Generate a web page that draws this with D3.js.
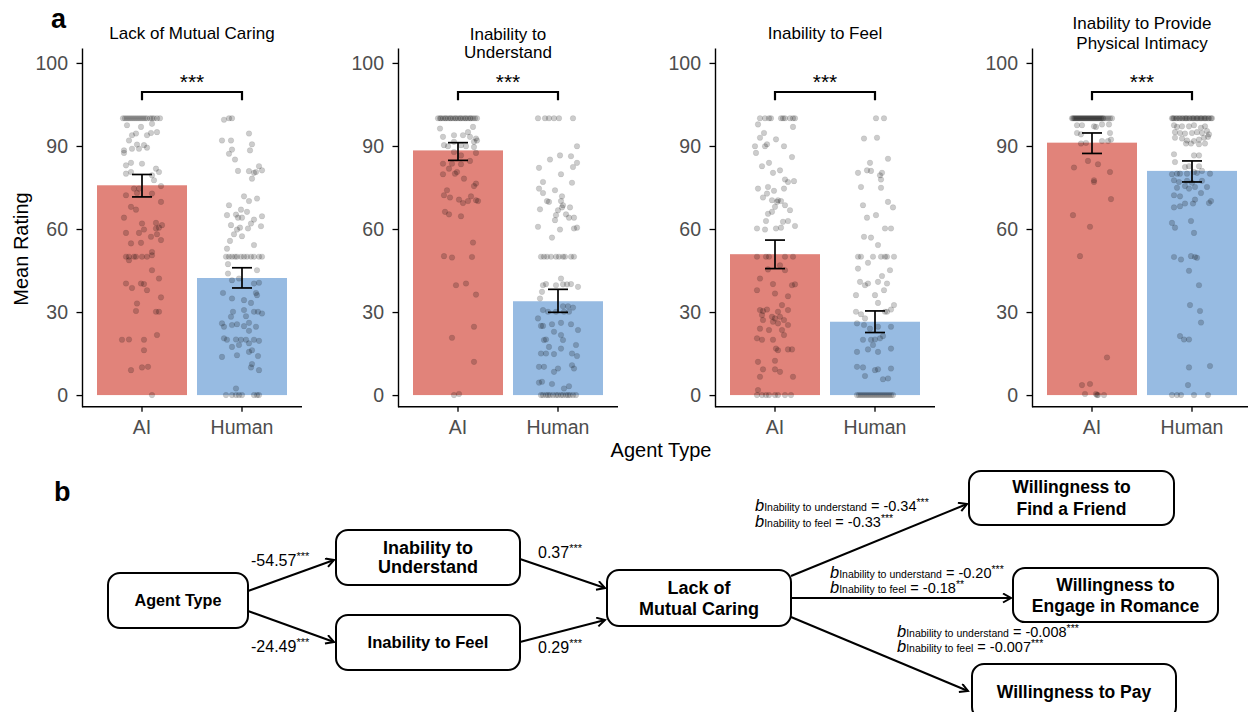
<!DOCTYPE html>
<html>
<head>
<meta charset="utf-8">
<script src="https://cdn.jsdelivr.net/npm/d3@7"></script>
<style>
  body { margin: 0; background: #fff; }
  svg text { font-family: "Liberation Sans", Arial, Helvetica, sans-serif; }
</style>
</head>
<body>
<svg id="fig" width="1248" height="712"></svg>
<script>
// ---- panel a data ----
var groups = ['AI', 'Human'];
var panelTitles = [['Lack of Mutual Caring'], ['Inability to', 'Understand'], ['Inability to Feel'], ['Inability to Provide', 'Physical Intimacy']];
var yTicks = [0, 30, 60, 90, 120];
var yTickLabels = ['0', '30', '60', '90', '100'];
var meanAI = [75.8, 88.4, 50.9, 91.2];
var meanHuman = [42.3, 33.9, 26.5, 81.0];
var ciAI = [[71.6, 79.7], [84.8, 91.2], [45.7, 56.0], [87.3, 94.7]];
var ciHuman = [[38.7, 46.0], [29.9, 38.2], [22.6, 30.4], [77.0, 84.6]];
var sigLabels = ['***', '***', '***', '***'];

// individual ratings: [jitter offset as share of band, rating]
var ptsLmcAI = [[-0.19,100],[-0.17,100],[-0.15,100],[-0.13,100],[-0.11,100],[-0.09,100],[-0.07,100],[-0.05,100],[-0.03,100],[-0.01,100],[0.01,100],[0.03,100],[0.05,100],[0.08,100],[0.10,100],[0.12,100],[0.15,100],[0.18,100],
  [-0.15,97.5],[-0.01,96.9],[0.10,98],[0.15,95],[0.09,94.7],[0.05,93.9],[-0.06,94.5],[-0.10,93.9],[-0.13,92],[-0.05,90.5],[0.02,90.3],[0.05,89.4],[-0.03,89],[-0.10,89],[-0.18,88.4],[-0.18,87.5],[-0.11,83.9],[0.00,83.6],[-0.16,83],[0.14,81.8],[0.17,80.6],[-0.11,80.6],[-0.16,80],[0.10,79.4],[0.12,77.6],[0.19,75.5],[-0.08,74.6],[-0.03,74.6],[-0.16,72.2],[0.10,72.8],[-0.05,73],[0.19,69.8],[-0.11,68],[-0.06,67],[-0.18,64.1],[0.00,62],[0.14,62.2],[0.20,61.4],[0.02,59.8],[0.14,60.2],[0.17,60.5],[-0.16,58.6],[-0.03,58.6],[0.09,57.2],[0.15,58.1],[0.19,56],[-0.11,54.8],[-0.01,55],[0.10,51.7],
  [-0.16,50],[-0.13,50],[-0.08,50],[-0.06,50],[0.00,50],[0.05,50],[0.10,50.5],[-0.13,48.7],[0.10,45.1],[-0.16,40.3],[-0.01,40.3],[0.02,40.1],[-0.10,38.7],[0.05,37.9],[0.17,42.1],[0.19,35.3],[-0.05,33.1],[-0.06,30.4],[0.14,30.1],[0.17,30.1],[0.15,21.7],[-0.20,20],[-0.13,20.1],[0.02,20],[0.02,16.2],[-0.11,9],[0.00,10],[0.06,10.2],[0.10,0]];
var ptsLmcHuman = [[-0.18,99.5],[-0.13,100],[-0.10,100],[0.07,94.5],[-0.20,92],[-0.11,92],[0.10,90.6],[-0.10,88.7],[-0.13,87.2],[-0.07,85.1],[0.08,88.4],[-0.04,81],[0.07,80.9],[0.12,80.3],[0.14,80.6],[0.17,82.7],[0.20,81.2],[0.10,78.2],[0.02,71.8],[0.15,71],[0.07,70.1],[-0.13,68.6],[-0.01,67],[0.05,66.2],[-0.15,65],[-0.06,65.2],[-0.04,64.1],[0.00,64.1],[0.12,63.4],[0.20,64.6],[-0.11,61.4],[-0.02,60.5],[0.06,60.2],[-0.05,59.8],[0.19,61],[0.09,62],[-0.08,58.1],[0.00,57.4],[-0.12,55.7],[0.12,54.2],[-0.15,52.9],
  [-0.16,50],[-0.13,50],[-0.10,50],[-0.07,50],[-0.05,50],[-0.01,50],[0.02,50],[0.05,50],[0.09,50],[0.12,50],[0.17,50],[0.20,50],
  [-0.14,47.3],[0.15,45.1],[-0.14,43.9],[-0.10,41.5],[-0.03,42.1],[0.12,40.3],[0.17,40.6],[0.14,36.9],[0.15,36.1],[-0.19,36.9],[-0.10,34.9],[0.02,34.3],[0.09,33.3],[-0.09,30.1],[0.02,30.7],[0.12,30.1],[0.16,30.1],[0.20,29.5],[0.04,28.5],[-0.11,28.3],[-0.20,25.9],[-0.18,24.7],[-0.10,25.3],[-0.05,25.6],[0.02,24.9],[0.07,26.1],[0.14,24.7],[0.07,23.2],[-0.18,20.5],[-0.15,20],[-0.06,20.1],[-0.01,20],[0.04,20],[0.12,20],[0.17,19.6],[-0.03,18.1],[0.07,18.7],[-0.10,17.4],[0.10,16.2],[-0.20,13.8],[-0.05,14.4],[0.07,15.6],[0.16,14.1],[0.10,11.2],[0.09,10],[0.17,9],[-0.06,2.4],
  [-0.16,0],[-0.10,0],[-0.06,0],[-0.03,0],[0.00,0],[0.12,0],[0.15,0],[0.17,0]];
var ptsIuAI = [[-0.20,100],[-0.18,100],[-0.17,100],[-0.15,100],[-0.13,100],[-0.12,100],[-0.10,100],[-0.08,100],[-0.07,100],[-0.05,100],[-0.03,100],[-0.02,100],[0.00,100],[0.02,100],[0.03,100],[0.05,100],[0.07,100],[0.08,100],[0.10,100],[0.12,100],[0.13,100],[0.15,100],[0.17,100],[0.19,100],
  [-0.18,96.3],[0.15,96.9],[0.10,95],[-0.15,93.3],[-0.04,93.9],[0.05,93.9],[0.12,93.3],[0.18,92.7],[0.16,91.5],[0.19,92],[-0.04,91.5],[-0.14,90.3],[-0.10,89.9],[0.03,90.3],[0.08,89.9],[0.16,89.6],[-0.04,87.8],[0.03,86.6],[0.18,87.5],[-0.15,83.6],[-0.06,83.6],[0.03,83.4],[0.12,84.6],[-0.09,81.8],[-0.01,80.6],[-0.15,79.8],[-0.03,80],[0.06,78.2],[0.18,76.4],[0.16,75.5],[-0.11,74],[-0.14,72.2],[-0.08,71.4],[0.01,70.6],[0.05,69.4],[0.10,70.1],[0.13,71.8],[0.18,70.4],[0.20,70.1],[-0.13,66.2],[-0.09,65.3],[0.03,64.6],[0.15,55.1],[-0.14,50.2],[-0.06,49.7],[0.14,49.9],[-0.02,39.7],[0.08,40.3],[0.18,36.3],[0.16,24.7],[-0.06,20.7],[0.16,12],[-0.04,0],[0.01,0.4]];
var ptsIuHuman = [[-0.20,100],[-0.13,100],[-0.09,100],[-0.04,100],[0.01,100],[0.15,100],[0.19,89.9],[-0.08,85.1],[0.02,86.6],[0.13,86.3],[0.19,83.9],[0.15,82.4],[-0.19,82.1],[0.03,79.8],[-0.15,77],[0.14,76.7],[-0.19,74.6],[-0.15,73],[-0.03,74],[0.04,71.8],[-0.11,70.1],[-0.09,69.8],[0.03,70.1],[0.05,68.6],[0.00,66.8],[0.04,67.8],[0.12,67.8],[-0.18,67.1],[-0.02,65],[0.08,65.3],[0.11,64.1],[0.16,64.1],[-0.03,63.2],[-0.20,60.8],[0.02,59.8],[0.16,60.2],[0.19,60.5],[-0.06,56.9],
  [-0.17,50],[-0.14,50],[-0.11,50],[-0.07,50],[-0.02,50],[0.01,50],[0.05,50],[0.07,50],[0.13,50],[0.16,50],
  [0.03,42.1],[-0.15,39.7],[-0.12,40.1],[-0.02,39.7],[0.05,40],[0.09,40],[0.13,40.1],[0.20,39.1],[-0.16,37.3],[-0.18,34.9],[0.05,32.1],[0.10,32.1],[0.15,31.6],[-0.15,30.7],[-0.10,30.1],[-0.02,30.1],[0.06,30.1],[0.11,30.1],[-0.20,27.7],[-0.17,25],[-0.15,25],[-0.06,25.6],[0.03,26.1],[0.13,25.6],[0.20,23.5],[-0.14,19.9],[-0.12,20.1],[-0.04,22.9],[0.03,21.7],[0.05,19.9],[-0.09,17.4],[0.03,16.8],[0.18,18.1],[-0.17,15],[-0.12,15],[-0.04,14.8],[0.14,15],[0.19,14.1],[-0.19,10.2],[-0.14,10.2],[0.00,9.6],[-0.04,8.4],[0.14,10.8],[0.16,9.6],[-0.16,4.8],[-0.06,4],[-0.19,4.5],[0.06,2.4],[0.11,3.2],
  [-0.17,0],[-0.15,0],[-0.12,0],[-0.10,0],[-0.08,0],[-0.05,0],[-0.02,0],[0.00,0],[0.03,0],[0.05,0],[0.08,0],[0.10,0],[0.12,0],[0.15,0],[0.18,0]];
var ptsIfAI = [[-0.15,100],[-0.10,100],[-0.06,100],[-0.04,100],[0.06,100],[0.08,100],[0.10,100],[0.15,100],[0.18,100],[0.20,100],
  [-0.17,97.8],[0.18,96.9],[-0.11,94.7],[-0.15,93],[0.01,92.4],[-0.08,90.6],[-0.10,89.9],[-0.20,89.9],[0.09,89.9],[-0.19,87.5],[0.17,86],[-0.06,83.9],[-0.13,82.7],[0.05,81.2],[-0.02,80.3],[0.10,77.9],[0.13,77],[0.19,77.3],[-0.17,74.6],[-0.07,75.2],[-0.01,73.8],[0.09,74.6],[-0.12,71.4],[-0.08,72.8],[-0.03,70.4],[0.02,69.8],[0.03,70.4],[0.06,70.1],[0.10,68.6],[0.15,66.8],[0.00,68],[-0.03,66.2],[-0.07,65.5],[-0.09,62.9],[0.08,62.6],[0.13,62.9],[-0.18,60.2],[-0.10,59.8],[0.01,60.2],[0.06,60.5],[0.20,61.1],
  [-0.18,50],[-0.09,50],[-0.06,50],[0.10,50],[0.18,50],
  [0.05,46.9],[-0.07,45.4],[0.10,45.1],[-0.15,42.1],[-0.02,40.1],[0.17,39.7],[0.20,40],[-0.18,37.9],[0.00,36.7],[0.13,35.7],[0.07,32.5],[-0.15,30.7],[-0.12,30.4],[-0.08,30.9],[0.03,30.1],[0.13,30.7],[-0.13,28.9],[-0.03,28.3],[0.00,27.7],[0.05,28.3],[0.09,27.1],[-0.12,27.1],[-0.02,26.5],[0.03,25.9],[0.13,25.3],[-0.15,24],[-0.06,23.5],[0.07,23.5],[-0.18,20.5],[-0.13,20],[-0.02,20],[0.09,21.7],[0.17,16.5],[0.01,16.8],[0.03,16.2],[0.13,16.5],[-0.17,12],[0.00,12.4],[-0.12,9.3],[0.00,9.3],[0.05,8.4],[-0.15,6.6],[0.18,6.6],[-0.17,1.8],
  [-0.18,0],[-0.13,0],[-0.09,0],[-0.06,0],[0.00,0],[0.03,0],[0.10,0],[0.16,0]];
var ptsIfHuman = [[0.01,100],[0.09,100],[-0.11,92.7],[0.02,93],[0.13,85.4],[-0.05,83.9],[-0.17,80.3],[-0.08,81.2],[-0.04,81],[0.07,80.3],[0.05,79.4],[0.06,77.9],[-0.14,75.2],[0.06,74.9],[0.13,69.8],[0.18,67.8],[-0.12,68.6],[0.01,65],[-0.08,64.1],[0.10,60.2],[0.16,60.2],[-0.11,57.2],[-0.04,56.9],[0.03,54.2],
  [-0.17,50],[-0.14,50],[-0.02,50],[0.06,50],[0.10,50],[0.12,50],[0.19,50],
  [-0.07,47.8],[0.15,45.1],[-0.17,45.7],[-0.15,40.9],[0.03,40.9],[0.07,43],[0.12,40.3],[-0.10,39.7],[-0.07,40.3],[-0.19,36.1],[0.00,36.1],[0.09,37.9],[0.03,33.3],[0.19,32.5],[0.16,30.9],[0.12,30.1],[0.10,30.1],[-0.19,30.1],[-0.14,29.2],[-0.10,27.7],[-0.18,25.9],[-0.11,25.3],[-0.05,24],[0.03,24.7],[0.16,24.7],[-0.12,20],[-0.04,20],[0.00,20.1],[0.05,20.5],[0.08,21.3],[-0.18,15.6],[-0.07,16.5],[-0.02,18.1],[0.03,15.6],[0.16,16.8],[-0.18,10.2],[-0.12,10],[0.00,9],[0.03,9.3],[0.16,9.6],[-0.10,6.9],[0.08,5.7],[0.13,6],
  [-0.18,0],[-0.16,0],[-0.14,0],[-0.12,0],[-0.10,0],[-0.08,0],[-0.06,0],[-0.04,0],[-0.02,0],[0.00,0],[0.02,0],[0.04,0],[0.06,0],[0.08,0],[0.10,0],[0.12,0],[0.14,0],[0.16,0],[0.18,0]];
var ptsIpiAI = [[-0.20,100],[-0.19,100],[-0.18,100],[-0.17,100],[-0.16,100],[-0.15,100],[-0.14,100],[-0.13,100],[-0.12,100],[-0.11,100],[-0.10,100],[-0.09,100],[-0.08,100],[-0.07,100],[-0.06,100],[-0.05,100],[-0.04,100],[-0.03,100],[-0.02,100],[-0.01,100],[0.00,100],[0.01,100],[0.02,100],[0.03,100],[0.04,100],[0.05,100],[0.06,100],[0.07,100],[0.08,100],[0.09,100],[0.10,100],[0.11,100],[0.12,100],[0.14,100],[0.16,100],[0.18,100],[0.20,100],
  [-0.15,97.5],[-0.10,97.5],[0.02,97.1],[0.04,96.9],[0.10,97.8],[0.17,97.8],[-0.15,94.7],[-0.11,94.2],[0.10,91.8],[0.16,91.8],[0.19,92.3],[0.18,94.7],[-0.11,90.9],[-0.06,91.1],[-0.04,84.6],[0.06,83.4],[-0.18,82.2],[0.18,80.6],[0.02,77.6],[0.02,77],[0.19,70.8],[-0.19,65],[-0.02,60.8],[-0.12,50.2],[0.15,13.6],[-0.10,3.6],[-0.02,4],[-0.07,0.4],[0.04,0.4],[0.05,0],[0.06,0],[0.12,0]];
var ptsIpiHuman = [[-0.20,100],[-0.19,100],[-0.18,100],[-0.16,100],[-0.15,100],[-0.13,100],[-0.12,100],[-0.10,100],[-0.09,100],[-0.07,100],[-0.06,100],[-0.05,100],[-0.03,100],[-0.02,100],[0.00,100],[0.01,100],[0.02,100],[0.04,100],[0.05,100],[0.06,100],[0.08,100],[0.09,100],[0.10,100],[0.12,100],[0.13,100],[0.14,100],[0.16,100],[0.17,100],[0.19,100],[0.20,100],
  [-0.18,97.5],[-0.15,96.9],[-0.10,97.1],[-0.03,97.1],[0.02,97.5],[0.09,96.6],[0.13,97.1],[-0.17,95],[-0.12,94.7],[-0.07,94.5],[0.00,94.7],[0.05,95],[0.10,94.7],[0.15,95.4],[0.17,94.2],[-0.17,93],[-0.10,92.7],[-0.05,92],[0.02,91.8],[0.07,92.3],[0.12,93],[0.16,93.3],[-0.06,90.9],[-0.01,90.9],[0.07,90.6],[0.13,90.9],[-0.18,87],[0.02,86.6],[0.07,86.6],[-0.17,84.2],[-0.07,82.4],[-0.03,82.7],[0.07,82.7],[0.10,81],[0.18,80],[-0.20,79.8],[-0.15,80],[-0.12,80],[-0.05,80],[0.02,80.6],[0.05,80.3],[-0.18,77.6],[-0.13,77],[-0.05,77.4],[0.00,76.7],[0.10,77.4],[-0.15,74.9],[-0.07,75.5],[-0.03,74.6],[0.03,75.2],[0.15,75.2],[-0.18,72.2],[-0.12,71.8],[-0.07,69.2],[0.03,70.6],[0.17,69.4],[0.19,70.1],[-0.18,67.8],[-0.12,68.2],[0.01,69.2],[0.09,73],[-0.20,62.2],[-0.17,60.5],[-0.01,62.9],[0.02,58.6],
  [-0.18,49.9],[-0.11,49],[-0.01,50.2],[0.03,49.9],[0.05,49.6],[-0.03,44.9],[0.07,39.7],[-0.02,32.5],[0.08,30.4],[0.09,26.2],[-0.12,21.3],[-0.08,20.1],[-0.03,20.1],[-0.03,10],[0.18,10.5],[-0.04,3.6],
  [-0.20,0],[-0.15,0],[-0.11,0],[0.02,0],[0.16,0]];
var ptsAI = [ptsLmcAI, ptsIuAI, ptsIfAI, ptsIpiAI];
var ptsHuman = [ptsLmcHuman, ptsIuHuman, ptsIfHuman, ptsIpiHuman];

// ---- panel b data ----
var nodeLabels = [['Agent Type'], ['Inability to', 'Understand'], ['Inability to Feel'], ['Lack of', 'Mutual Caring'],
  ['Willingness to', 'Find a Friend'], ['Willingness to', 'Engage in Romance'], ['Willingness to Pay']];
var pathCoefs = ['-54.57', '-24.49', '0.37', '0.29'];
var pathStars = ['***', '***', '***', '***'];
var bUnderstand = ['-0.34', '-0.20', '-0.008'];
var bUnderstandStars = ['***', '***', '***'];
var bFeel = ['-0.33', '-0.18', '-0.007'];
var bFeelStars = ['***', '**', '***'];

// ---- layout ----
var svg = d3.select('#fig');
var panelLeft = [82, 398, 715, 1032];
var titleBase = [[38.5], [39.5, 58], [38.5], [28.5, 48.5]];
var barColors = ['#e1837a', '#97bbe2'];

var y = d3.scaleLinear()
          .domain([-4.2, 125.4])
          .range([406.7, 48]);

function drawPanel(i) {
  var left = panelLeft[i];
  var x = d3.scaleBand()
            .domain(groups)
            .range([left + 10, left + 210]);
  var bw = x.bandwidth();
  var means = [meanAI[i], meanHuman[i]];
  var cis = [ciAI[i], ciHuman[i]];
  var pts = [ptsAI[i], ptsHuman[i]];
  var g = svg.append('g');

  g.selectAll('.bar')
    .data(groups)
    .enter()
    .append('rect')
      .classed('bar', true)
      .attr('x', d => x(d) + bw * 0.05)
      .attr('width', bw * 0.9)
      .attr('y', (d, j) => y(means[j]))
      .attr('height', (d, j) => y(0) - y(means[j]))
      .attr('fill', (d, j) => barColors[j]);

  groups.forEach(function(name, j) {
    var cx = x(name) + bw / 2;
    g.append('g')
      .selectAll('circle')
      .data(pts[j])
      .enter()
      .append('circle')
        .attr('cx', d => cx + d[0] * bw)
        .attr('cy', d => y(d[1]))
        .attr('r', 2.8)
        .attr('fill', 'black')
        .attr('fill-opacity', 0.2)
        .attr('stroke', 'black')
        .attr('stroke-opacity', 0.12)
        .attr('stroke-width', 0.6);

    // error bar
    var eb = g.append('g')
              .attr('stroke', 'black')
              .attr('stroke-width', 1.7);
    eb.append('line')
      .attr('x1', cx).attr('x2', cx)
      .attr('y1', y(cis[j][0])).attr('y2', y(cis[j][1]));
    cis[j].forEach(function(v) {
      eb.append('line')
        .attr('x1', cx - bw * 0.1).attr('x2', cx + bw * 0.1)
        .attr('y1', y(v)).attr('y2', y(v));
    });
  });

  // axes
  var yAxis = d3.axisLeft(y)
                .tickValues(yTicks)
                .tickFormat((d, k) => yTickLabels[k])
                .tickSize(5.5)
                .tickSizeOuter(0)
                .tickPadding(8.5);
  var ya = g.append('g')
            .attr('transform', `translate(${left},0)`)
            .call(yAxis);
  var xAxis = d3.axisBottom(x)
                .tickSize(5)
                .tickSizeOuter(0)
                .tickPadding(8);
  var xa = g.append('g')
            .attr('transform', `translate(0,${y.range()[0]})`)
            .call(xAxis);
  xa.select('.domain').remove();
  g.append('line')
    .attr('x1', left).attr('x2', left + 220)
    .attr('y1', y.range()[0]).attr('y2', y.range()[0])
    .attr('stroke', 'black')
    .attr('stroke-width', 1.4);
  [ya, xa].forEach(function(a) {
    a.select('.domain').attr('stroke', 'black').attr('stroke-width', 1.4);
    a.selectAll('.tick line').attr('stroke', 'black').attr('stroke-width', 1.3);
    a.selectAll('.tick text')
      .attr('fill', '#4d4d4d')
      .attr('font-size', 19.5)
      .attr('font-family', null);
  });

  // title
  panelTitles[i].forEach(function(line, k) {
    g.append('text')
      .attr('x', left + 110)
      .attr('y', titleBase[i][k])
      .attr('text-anchor', 'middle')
      .attr('font-size', 17)
      .text(line);
  });

  // significance bracket
  var xa0 = x('AI') + bw / 2, xh0 = x('Human') + bw / 2;
  g.append('path')
    .attr('d', `M${xa0},${y(106.5)}V${y(109.5)}H${xh0}V${y(106.5)}`)
    .attr('fill', 'none')
    .attr('stroke', 'black')
    .attr('stroke-width', 2.2);
  g.append('text')
    .attr('x', (xa0 + xh0) / 2)
    .attr('y', y(109.5) - 3)
    .attr('text-anchor', 'middle')
    .attr('font-size', 21)
    .text(sigLabels[i]);
}

panelTitles.forEach((t, i) => drawPanel(i));

svg.append('text')
  .attr('transform', 'translate(28,249) rotate(-90)')
  .attr('text-anchor', 'middle')
  .attr('font-size', 20)
  .text('Mean Rating');
svg.append('text')
  .attr('x', 661).attr('y', 457)
  .attr('text-anchor', 'middle')
  .attr('font-size', 20)
  .text('Agent Type');

svg.append('text').attr('x', 51).attr('y', 28)
  .attr('font-size', 27).attr('font-weight', 'bold').text('a');
svg.append('text').attr('x', 54).attr('y', 501)
  .attr('font-size', 27).attr('font-weight', 'bold').text('b');

// ---- panel b: path diagram ----
var boxes = [
  {x: 108, y: 573, w: 140, h: 55, fs: 16.2, lh: 20},
  {x: 336, y: 530, w: 184, h: 55, fs: 18, lh: 19},
  {x: 336, y: 615, w: 184, h: 55, fs: 16.6, lh: 20},
  {x: 607, y: 570, w: 184, h: 56, fs: 18, lh: 21},
  {x: 969, y: 471, w: 205, h: 54, fs: 17.5, lh: 22},
  {x: 1013, y: 568, w: 205, h: 54, fs: 17.5, lh: 21},
  {x: 972, y: 664, w: 204, h: 55, fs: 17.5, lh: 21}
];
var arrows = [
  [248, 591, 334, 560], [248, 611, 334, 642],
  [520, 559, 605, 588], [520, 642, 605, 620],
  [791, 576, 967, 504], [791, 598, 1011, 598], [791, 617, 968, 691]
];
var coefPos = [[251, 566], [251, 652], [538, 558], [538, 653]];
var bPos = [[755, 511, 527], [830, 578, 593], [897, 637, 652]];

svg.append('defs')
  .append('marker')
    .attr('id', 'head')
    .attr('markerUnits', 'userSpaceOnUse')
    .attr('markerWidth', 14).attr('markerHeight', 14)
    .attr('refX', 9).attr('refY', 5)
    .attr('orient', 'auto')
  .append('path')
    .attr('d', 'M1,0.5L9,5L1,9.5')
    .attr('fill', 'none')
    .attr('stroke', 'black')
    .attr('stroke-width', 2)
    .attr('stroke-linejoin', 'miter');

svg.append('g')
  .selectAll('line')
  .data(arrows)
  .enter()
  .append('line')
    .attr('x1', d => d[0]).attr('y1', d => d[1])
    .attr('x2', d => d[2]).attr('y2', d => d[3])
    .attr('stroke', 'black')
    .attr('stroke-width', 2)
    .attr('marker-end', 'url(#head)');

var nodeG = svg.append('g')
  .selectAll('g')
  .data(boxes)
  .enter()
  .append('g');
nodeG.append('rect')
  .attr('x', d => d.x).attr('y', d => d.y)
  .attr('width', d => d.w).attr('height', d => d.h)
  .attr('rx', 12)
  .attr('fill', 'white')
  .attr('stroke', 'black')
  .attr('stroke-width', 2);
nodeG.each(function(d, i) {
  var lines = nodeLabels[i];
  var cy = d.y + d.h / 2;
  lines.forEach(function(line, k) {
    d3.select(this).append('text')
      .attr('x', d.x + d.w / 2)
      .attr('y', cy + (k - (lines.length - 1) / 2) * d.lh)
      .attr('dy', '0.36em')
      .attr('text-anchor', 'middle')
      .attr('font-size', d.fs)
      .attr('font-weight', 'bold')
      .text(line);
  }, this);
});

pathCoefs.forEach(function(c, i) {
  var t = svg.append('text')
             .attr('x', coefPos[i][0]).attr('y', coefPos[i][1])
             .attr('font-size', 16);
  t.append('tspan').text(c);
  t.append('tspan').attr('font-size', 11).attr('dy', -6).text(pathStars[i]);
});

function bLine(x0, yb, sub, val, stars) {
  var t = svg.append('text')
             .attr('x', x0).attr('y', yb)
             .attr('font-size', 14.5);
  t.append('tspan').attr('font-style', 'italic').attr('font-size', 16.5).text('b');
  t.append('tspan').attr('font-size', 10.5).text(sub);
  t.append('tspan').text(' = ' + val);
  t.append('tspan').attr('font-size', 10.5).attr('dy', -5).text(stars);
}
bUnderstand.forEach(function(v, i) {
  bLine(bPos[i][0], bPos[i][1], 'Inability to understand', v, bUnderstandStars[i]);
  bLine(bPos[i][0], bPos[i][2], 'Inability to feel', bFeel[i], bFeelStars[i]);
});
</script>
</body>
</html>
